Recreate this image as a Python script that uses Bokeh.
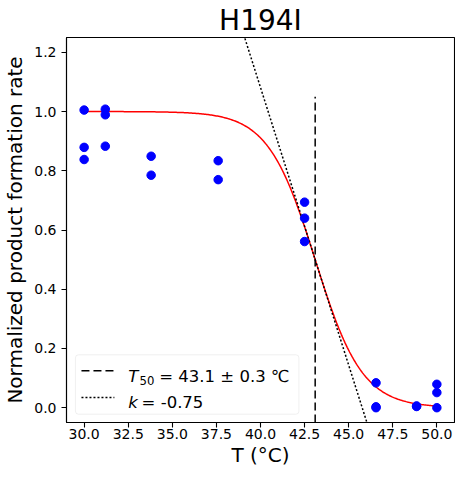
import numpy as np
from bokeh.plotting import figure
from bokeh.models import Range1d, FixedTicker, PrintfTickFormatter, Label, BoxAnnotation
from bokeh.embed import file_html
from bokeh.resources import INLINE

# ---- data ----
temps = [30.0, 30.0, 30.0, 31.2, 31.2, 31.2, 33.8, 33.8, 37.6, 37.6,
         42.5, 42.5, 42.5, 46.55, 46.55, 46.55, 48.85, 48.85, 50.0, 50.0, 50.0]
rates = [1.005, 0.879, 0.838, 1.008, 0.989, 0.883, 0.849, 0.785, 0.834, 0.770,
         0.694, 0.640, 0.561, 0.084, 0.003, 0.000, 0.004, 0.006, 0.079, 0.051, 0.000]
T50 = 43.1
T50_err = 0.3
k = -0.75
x_ticks = [30.0, 32.5, 35.0, 37.5, 40.0, 42.5, 45.0, 47.5, 50.0]
y_ticks = [0.0, 0.2, 0.4, 0.6, 0.8, 1.0, 1.2]
x_lim = (29.0, 51.0)
y_lim = (-0.05, 1.25)
title_text = "H194I"
x_label = "T (°C)"
y_label = "Normalized product formation rate"

FONT = "DejaVu Sans"

p = figure(frame_width=388, frame_height=385, x_range=Range1d(*x_lim), y_range=Range1d(*y_lim),
           output_backend="svg", toolbar_location=None,
           min_border_left=59, min_border_right=1, min_border_top=30, min_border_bottom=46)

p.title.text = title_text
p.title.align = "center"
p.title.text_font = FONT
p.title.text_font_size = "28px"
p.title.text_font_style = "normal"
p.title.text_color = "black"
p.title.standoff = 2
p.title.offset = 0

p.grid.visible = False
p.outline_line_color = "black"
p.outline_line_alpha = 1.0
p.outline_line_width = 1.1

for ax in (p.xaxis[0], p.yaxis[0]):
    ax.axis_line_color = "black"
    ax.axis_line_width = 1.1
    ax.major_tick_line_color = "black"
    ax.major_tick_line_width = 1.1
    ax.major_tick_out = 5
    ax.major_tick_in = 0
    ax.minor_tick_out = 0
    ax.minor_tick_in = 0
    ax.major_label_text_font = FONT
    ax.major_label_text_font_size = "14px"
    ax.major_label_text_color = "black"
    ax.major_label_standoff = 5
    ax.formatter = PrintfTickFormatter(format="%.1f")
    ax.axis_label_text_font = FONT
    ax.axis_label_text_font_size = "20px"
    ax.axis_label_text_font_style = "normal"
    ax.axis_label_text_color = "black"

p.xaxis.ticker = FixedTicker(ticks=x_ticks)
p.yaxis.ticker = FixedTicker(ticks=y_ticks)
p.yaxis.axis_label = y_label
p.yaxis.axis_label_standoff = 4
p.xaxis.axis_label = x_label
p.xaxis.axis_label_standoff = 1
p.xaxis.major_label_standoff = 1

# fitted sigmoid
T_fit = np.linspace(min(temps), max(temps), 300)
y_fit = 1.0 / (1.0 + np.exp(-k * (T_fit - T50)))
p.line(T_fit, y_fit, line_color="red", line_width=1.5)

# tangent line at T50 (slope k/4)
y_tan = np.array([y_lim[1] + 0.1, y_lim[0] - 0.1])
T_tan = T50 + (y_tan - 0.5) * 4.0 / k
p.line(T_tan, y_tan, line_color="black", line_width=1.5, line_dash="2 2")

# T50 vertical dashed line
p.line([T50, T50], [y_lim[0], 1.05], line_color="black", line_width=1.5, line_dash="8 4")

# data points
p.scatter(temps, rates, size=8.5, fill_color="blue", line_color="blue")

# ---- helpers for decorations (reference pixel -> data) ----
FL, FT, FW, FH = 67.0, 40.0, 389.0, 385.0
def dx(px):
    return x_lim[0] + (px - FL) / FW * (x_lim[1] - x_lim[0])
def dy(py):
    return y_lim[1] - (py - FT) / FH * (y_lim[1] - y_lim[0])

# legend
box = BoxAnnotation(left=dx(76), right=dx(300), top=dy(357.3), bottom=dy(416.7),
                    fill_color="white", fill_alpha=0.8, line_color="#cccccc",
                    line_width=1, border_radius=3)
p.add_layout(box)
p.line([dx(82), dx(115)], [dy(373.3), dy(373.3)], line_color="black", line_width=1.5,
       line_dash="8 4", level="overlay")
p.line([dx(82), dx(115)], [dy(400), dy(400)], line_color="black", line_width=1.5,
       line_dash="2 2", level="overlay")

def lab(x, y, text, size, style="normal"):
    p.add_layout(Label(x=x, y=y, text=text, text_font=FONT, text_font_size=size,
                       text_font_style=style, text_color="black",
                       text_baseline="alphabetic", text_align="left"))

lab(dx(129), dy(379.3), "T", "16.5px", "italic")
lab(dx(140.2), dy(382.5), "50", "11.7px")
lab(dx(160), dy(379.3), "= %.1f ± %.1f ℃" % (T50, T50_err), "16.5px")
lab(dx(129), dy(405), "k", "16.5px", "italic")
lab(dx(142.3), dy(405), "= %.2f" % k, "16.5px")

open("out.html", "w").write(file_html(p, INLINE))
